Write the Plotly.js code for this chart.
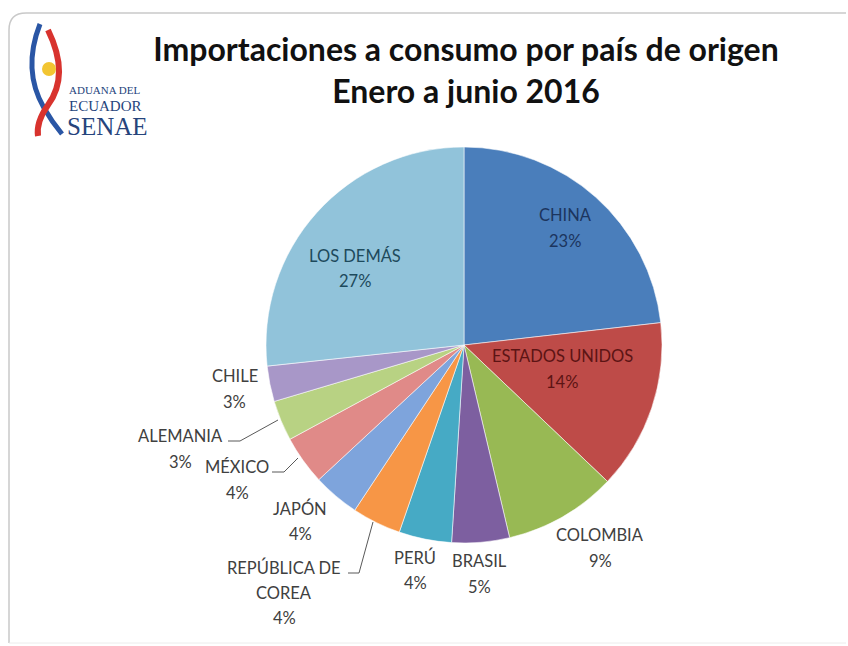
<!DOCTYPE html>
<html>
<head>
<meta charset="utf-8">
<script src="https://cdn.plot.ly/plotly-3.0.1.min.js"></script>
<style>html,body{margin:0;padding:0;background:#fff;}#chart{width:848px;height:646px;}</style>
</head>
<body>
<div id="chart"></div>
<script>
// ---- data ----
const countries = ["CHINA","ESTADOS UNIDOS","COLOMBIA","BRASIL","PERÚ","REPÚBLICA DE<br>COREA","JAPÓN","MÉXICO","ALEMANIA","CHILE","LOS DEMÁS"];
const shares = [23.2, 13.9, 9.2, 4.7, 4.3, 4.0, 3.8, 4.0, 3.3, 2.9, 26.7];
const titleText = "Importaciones a consumo por país de origen<br>Enero a junio 2016";

// ---- styles / layout helpers ----
const sliceColors = ["#4a7ebb","#be4b48","#98b954","#7d5fa0","#46aac5","#f79646","#7ea4dc","#e08a88","#b8d283","#a897c8","#91c3da"];
const textColors = ["#1c355e","#5c1414","#404040","#404040","#404040","#404040","#404040","#404040","#404040","#404040","#1d4a5c"];
// pixel centre of the first text line of each data label (as placed in the original)
const labelAnchor = [[565,215],[562,356],[600,535],[479,561],[415,557],[284,567],[300,508],[237,467],[180,436],[235,376],[355,256]];
const lineGap = 25.5;
// leader lines (pixel polylines) for labels that sit away from their slice
const leaders = [[[228,441],[240,441],[278,420]], [[272,472],[284,472],[298,458]], [[348,573],[359,573],[373,522]]];

const W = 848, H = 646;
const px = x => x / W;
const py = y => 1 - y / H;
const cx = 464, cy = 345, R = 198;

const trace = {
  type: "pie",
  labels: countries,
  values: shares,
  sort: false,
  direction: "clockwise",
  rotation: 0,
  textinfo: "none",
  marker: {colors: sliceColors, line: {color: "rgba(255,255,255,0.55)", width: 1}},
  domain: {x: [px(cx - R), px(cx + R)], y: [py(cy + R), py(cy - R)]},
  hoverinfo: "label+percent",
  showlegend: false
};

function path(pts) { return pts.map((p, i) => (i ? "L" : "M") + px(p[0]) + "," + py(p[1])).join(" "); }

const shapes = [
  {type: "path", xref: "paper", yref: "paper",
   path: "M" + px(9) + "," + py(643) + " L" + px(9) + "," + py(30) + " Q" + px(9) + "," + py(13) + " " + px(26) + "," + py(13) + " L" + px(846) + "," + py(13),
   line: {color: "#c9c9c9", width: 1.5}},
  {type: "line", xref: "paper", yref: "paper", x0: px(9), x1: px(846), y0: py(643), y1: py(643), line: {color: "#ececec", width: 1}},
  // logo swooshes
  {type: "path", xref: "paper", yref: "paper",
   path: "M" + px(40) + "," + py(24) + " Q" + px(22) + "," + py(70) + " " + px(44) + "," + py(108) + " Q" + px(52) + "," + py(122) + " " + px(62) + "," + py(134),
   line: {color: "#2a56a5", width: 5}},
  {type: "path", xref: "paper", yref: "paper",
   path: "M" + px(48) + "," + py(30) + " Q" + px(70) + "," + py(75) + " " + px(48) + "," + py(105) + " Q" + px(36) + "," + py(122) + " " + px(38) + "," + py(136),
   line: {color: "#d8332e", width: 6}},
  {type: "circle", xref: "paper", yref: "paper", x0: px(42), x1: px(56), y0: py(76), y1: py(62), fillcolor: "#f2c532", line: {width: 0}}
];
leaders.forEach(l => shapes.push({type: "path", xref: "paper", yref: "paper", path: path(l), line: {color: "#595959", width: 1}}));

const annotations = [
  {xref: "paper", yref: "paper", x: px(67), y: py(90), xanchor: "left", yanchor: "middle", showarrow: false,
   text: "ADUANA DEL", font: {family: "'Liberation Serif', serif", size: 11, color: "#26447c"}},
  {xref: "paper", yref: "paper", x: px(67), y: py(106), xanchor: "left", yanchor: "middle", showarrow: false,
   text: "ECUADOR", font: {family: "'Liberation Serif', serif", size: 15, color: "#26447c"}},
  {xref: "paper", yref: "paper", x: px(65), y: py(126), xanchor: "left", yanchor: "middle", showarrow: false,
   text: "SENAE", font: {family: "'Liberation Serif', serif", size: 25, color: "#26447c"}}
];

// data labels: category name + rounded share, one annotation per text line
const total = shares.reduce((a, b) => a + b, 0);
countries.forEach((c, i) => {
  const lines = c.split("<br>").concat([Math.round(shares[i] / total * 100) + "%"]);
  lines.forEach((t, k) => {
    annotations.push({xref: "paper", yref: "paper", x: px(labelAnchor[i][0]), y: py(labelAnchor[i][1] + k * lineGap),
      xanchor: "center", yanchor: "middle", showarrow: false, text: t,
      font: {family: "Lato, 'Open Sans', sans-serif", size: 16.5, color: textColors[i]}});
  });
});

const layout = {
  width: W, height: H,
  margin: {l: 0, r: 0, t: 0, b: 0},
  paper_bgcolor: "#ffffff",
  title: {text: titleText, x: px(466), xanchor: "center", y: py(61), yanchor: "top",
          font: {family: "Lato, 'Open Sans', sans-serif", size: 32, weight: "bold", color: "#111111"}},
  shapes: shapes,
  annotations: annotations,
  showlegend: false
};

Plotly.newPlot("chart", [trace], layout, {displayModeBar: false, staticPlot: true});
</script>
</body>
</html>
